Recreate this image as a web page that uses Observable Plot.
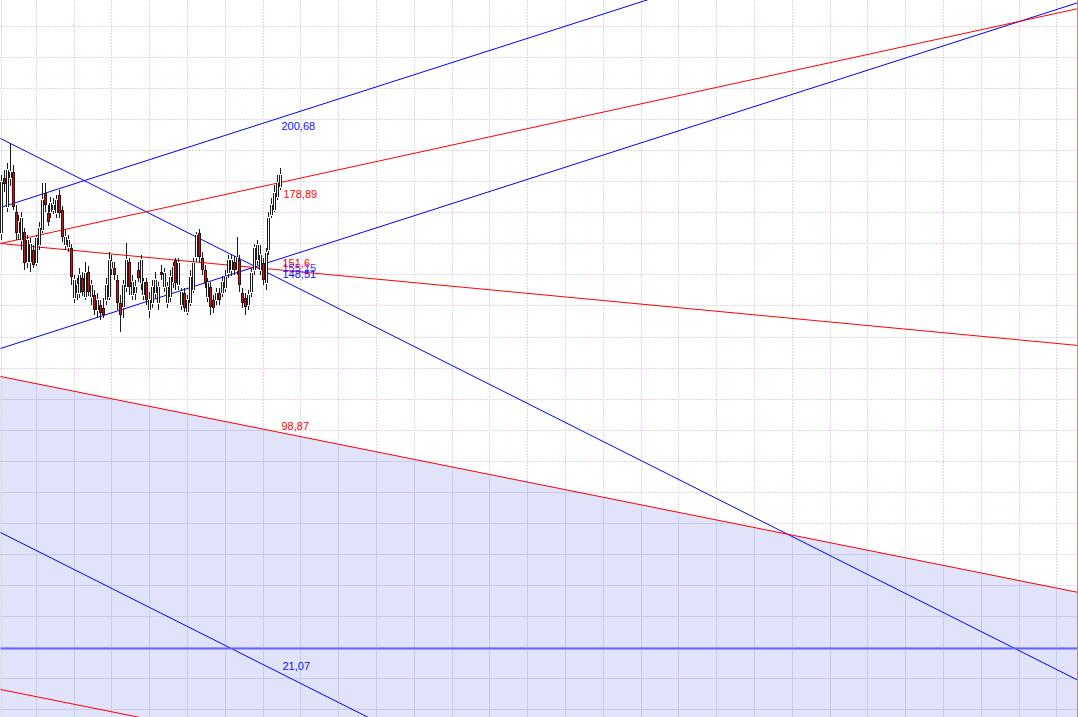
<!DOCTYPE html>
<html><head><meta charset="utf-8">
<script src="https://cdn.jsdelivr.net/npm/d3@7"></script>
<script src="https://cdn.jsdelivr.net/npm/@observablehq/plot@0.6"></script>
<style>html,body{margin:0;padding:0;background:#fff;} svg{display:block}</style>
</head><body><div id="chart"></div>
<script>
// Candles (price), one per bar
const open  = [163.3,181.0,171.7,181.0,183.0,170.1,163.3,161.1,163.7,154.0,154.0,157.9,153.7,159.5,164.3,176.2,169.8,170.1,170.7,169.8,175.6,170.7,159.5,158.8,158.5,142.4,144.0,144.0,148.8,142.7,150.8,142.7,143.4,138.5,140.1,139.2,141.8,142.7,152.1,152.1,148.2,140.8,139.5,145.9,154.0,143.4,144.0,151.4,147.2,143.4,147.6,138.5,140.8,144.0,140.8,150.8,145.9,140.8,142.7,147.6,154.6,146.6,140.1,144.0,137.9,140.8,145.0,155.6,163.3,155.3,151.4,142.7,145.9,141.8,141.8,144.0,144.0,145.6,150.4,151.4,154.0,151.4,154.6,144.0,142.4,140.1,144.3,151.4,154.6,151.4,153.7,147.2,157.9,169.1,170.7,174.9,178.2];
const high  = [182.0,183.6,185.9,192.3,185.2,172.4,169.1,170.1,164.9,162.7,161.7,159.5,162.7,166.9,179.4,179.4,172.4,174.9,174.6,175.6,177.2,172.0,164.3,162.7,159.8,149.8,148.8,152.1,150.8,154.0,152.7,148.2,145.0,144.0,141.8,142.4,148.8,157.2,156.2,154.0,149.8,143.4,148.2,160.1,155.3,149.8,148.2,154.0,156.2,148.8,148.8,144.3,148.2,150.8,147.6,153.0,152.1,147.6,151.4,154.0,155.3,155.3,145.6,145.6,143.4,151.4,155.3,163.7,164.6,157.2,153.0,148.8,147.6,143.4,145.6,145.6,149.5,151.4,156.2,156.6,155.9,162.0,156.2,145.6,144.0,145.0,152.1,159.8,161.1,159.5,155.3,158.5,170.1,174.6,178.8,182.0,184.3];
const low   = [161.1,176.5,170.1,178.5,170.7,161.1,161.1,157.9,151.4,152.1,150.8,152.1,152.7,157.9,163.3,170.1,165.6,168.2,169.5,168.2,168.2,160.4,157.9,157.2,146.6,140.8,141.8,142.4,143.0,141.8,143.0,140.1,136.9,135.9,135.3,135.9,140.1,141.8,149.8,148.2,138.5,131.4,135.9,144.3,143.4,141.8,141.8,147.6,145.0,141.8,140.1,135.9,139.2,142.4,138.5,148.2,144.3,139.2,141.1,145.6,145.0,145.0,138.5,137.9,136.9,139.8,144.0,154.0,154.0,149.8,145.6,141.1,136.9,137.6,140.1,140.1,142.7,144.3,148.8,149.5,149.8,149.8,144.3,139.2,136.9,138.5,142.7,149.8,153.0,149.8,146.6,145.0,156.2,168.2,170.1,174.0,177.2];
const close = [179.8,179.1,183.6,183.0,171.7,163.3,166.9,168.2,153.7,161.1,159.8,153.0,161.7,164.9,174.0,172.4,166.9,173.0,172.4,174.0,169.8,162.0,162.0,161.1,149.2,148.2,146.6,149.8,144.3,150.4,144.3,146.6,138.5,141.8,137.6,136.9,146.6,154.6,154.0,149.8,140.8,136.9,146.6,154.6,145.9,147.6,145.9,148.8,154.6,147.6,141.8,141.8,145.9,148.2,145.9,149.8,150.4,145.9,149.2,152.4,147.2,153.7,144.3,139.2,141.8,149.2,153.7,162.7,155.6,151.4,147.2,147.2,139.5,139.2,144.0,141.8,147.6,149.2,154.6,154.6,151.4,155.3,146.6,140.8,139.5,143.4,150.4,158.5,159.5,156.2,148.2,156.9,168.2,172.4,176.2,179.4,182.0];

// Trend lines: start bar / price, end bar / price
const lineColor = ["#0000ff","#0000ff","#0000ff","#0000ff","#6464ff","#ff0000","#ff0000","#ff0000","#ff0000"];
const lineWidth = [1,1,1,1,2,1,1,1,1];
const lineBar1  = [-0.34,-0.34,-0.34,-0.34,-0.34,-0.34,-0.34,-0.34,-0.34];
const linePrice1= [171.70,126.20,193.93,67.03,29.67,160.11,160.11,117.27,16.47];
const lineBar2  = [370.4,370.4,370.4,370.4,370.4,370.4,370.4,370.4,370.4];
const linePrice2= [283.14,237.63,19.37,-107.5,29.67,235.79,127.26,47.71,-53.1];

// Zone below the lower red line
const zoneBar   = [-0.34, 370.4];
const zonePrice = [117.27, 47.71];

// Value labels
const labelText  = ["200,68","178,89","155,15","151,6","148,51","98,87","21,07"];
const labelColor = ["#1010ff","#ff0000","#4040ff","#ff0000","#1010ff","#ff0000","#1010ff"];
const labelBar   = [96.3,97.0,96.6,96.6,96.6,96.3,96.6];
const labelPrice = [197.8,175.9,151.9,153.7,150.1,101.2,23.9];

const xDomain = [-0.34, 370.4];
const yDomain = [7.46, 238.37];
const gridBars = d3.range(12, 371, 13);
const gridPrices = d3.range(10, 240, 10);

const candles = open.map((o, i) => ({i, o, h: high[i], l: low[i], c: close[i], up: close[i] >= o}));
const lines = lineColor.map((c, k) => ({c, w: lineWidth[k], x1: lineBar1[k], y1: linePrice1[k], x2: lineBar2[k], y2: linePrice2[k]}));
const zone = zoneBar.map((x, k) => ({x, y: zonePrice[k]}));
const labels = labelText.map((t, k) => ({t, c: labelColor[k], x: labelBar[k], y: labelPrice[k]}));

// grid segments inside the zone (derived from the zone's edge line)
const zoneAt = d3.scaleLinear().domain(zoneBar).range(zonePrice);
const zoneGridX = gridBars.map(b => ({b, top: zoneAt(b)}));
const zoneGridY = gridPrices.filter(p => p < d3.max(zonePrice))
  .map(p => ({p, to: Math.max(xDomain[0], Math.min(xDomain[1], zoneAt.invert(p)))}));

const gridStyle = [
  {stroke: "#dcdcdc", strokeDasharray: "2,1"},
  {stroke: "#f4c8f4", strokeDasharray: "2,1,2,1,2,19", strokeDashoffset: 9},
  {stroke: "#cfe9cf", strokeDasharray: "2,1,2,1,2,19", strokeDashoffset: 18}
];
const zoneGridColor = "#c9cbec";

const chart = Plot.plot({
  width: 1078, height: 717,
  marginTop: 0, marginRight: 0, marginBottom: 0, marginLeft: 0,
  x: {domain: xDomain, axis: null, round: true},
  y: {domain: yDomain, axis: null, round: true},
  style: {background: "#ffffff", fontFamily: "'Liberation Sans', Arial, sans-serif", fontSize: "11px"},
  marks: [
    Plot.areaY(zone, {x: "x", y1: yDomain[0], y2: "y", fill: "#e1e3fb"}),
    ...gridStyle.map(s => Plot.ruleX(gridBars, s)),
    ...gridStyle.map(s => Plot.ruleY(gridPrices, s)),
    Plot.ruleX(zoneGridX, {x: "b", y1: yDomain[0], y2: "top", stroke: zoneGridColor}),
    Plot.ruleY(zoneGridY, {y: "p", x1: xDomain[0], x2: "to", stroke: zoneGridColor}),
    Plot.ruleX([xDomain[0]], {...gridStyle[0], dx: 1}),
    Plot.link(lines, {x1: "x1", y1: "y1", x2: "x2", y2: "y2", stroke: "c", strokeWidth: "w", clip: true}),
    Plot.ruleX(candles, {x: "i", y1: "l", y2: "h", stroke: "#1a1a1a", strokeWidth: 1}),
    Plot.ruleX(candles, {x: "i", y1: "o", y2: "c", stroke: "#1a1a1a", strokeWidth: 3}),
    Plot.ruleX(candles, {x: "i", y1: "o", y2: "c", stroke: d => d.up ? "#ffffff" : "#ff0000", strokeWidth: 1, insetTop: 1, insetBottom: 1}),
    Plot.text(labels, {x: "x", y: "y", text: "t", fill: "c", textAnchor: "start", fontSize: 11}),
    Plot.ruleX([xDomain[1]], {stroke: "#c08a8a", dx: -1})
  ]
});
document.getElementById("chart").appendChild(chart);
</script>
</body></html>
